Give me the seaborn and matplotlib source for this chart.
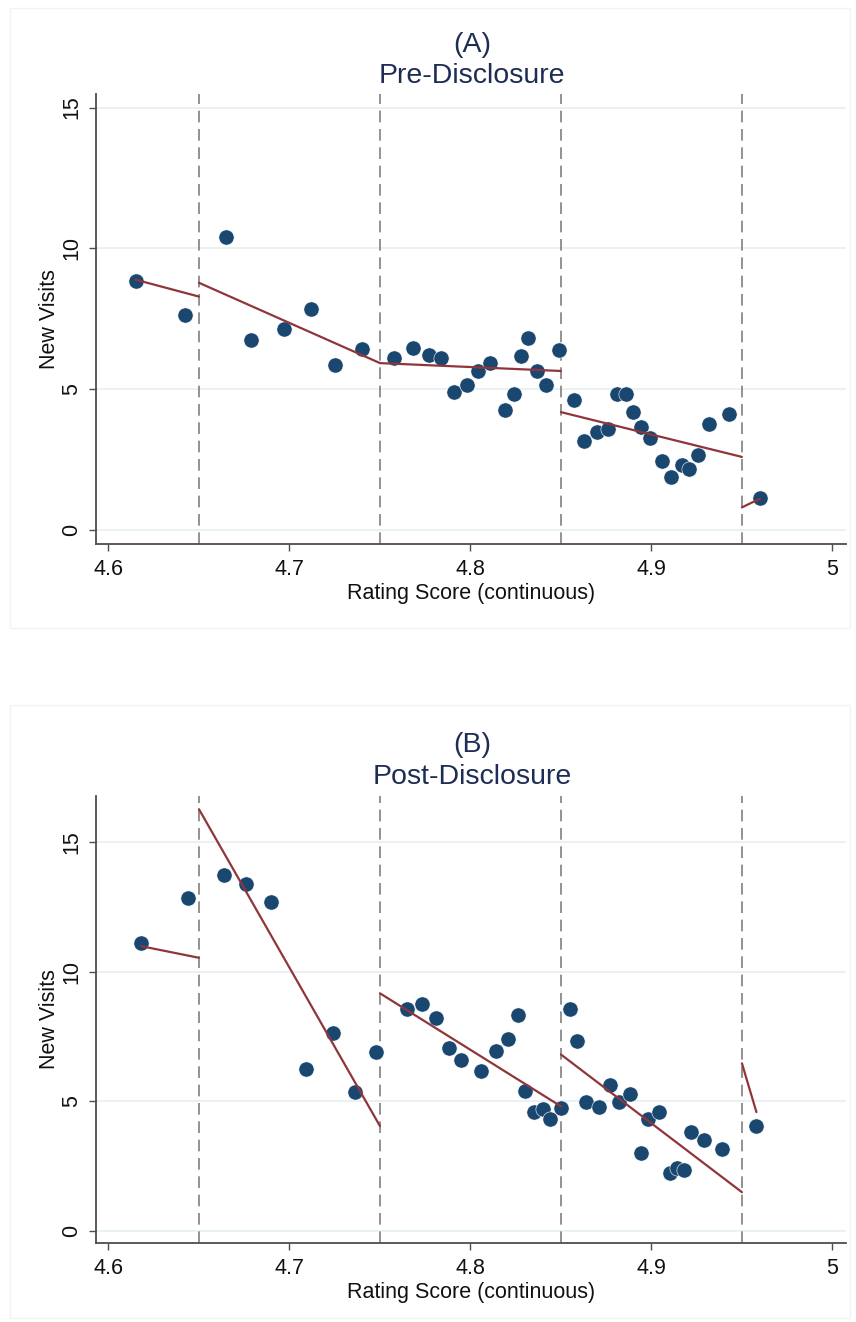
import numpy as np
import pandas as pd
import matplotlib
matplotlib.use("Agg")
import matplotlib.pyplot as plt
import seaborn as sns
from matplotlib.patches import Rectangle

# ---------------- data ----------------
cutoffs = [4.65, 4.75, 4.85, 4.95]
x_ticks = [4.6, 4.7, 4.8, 4.9, 5.0]
x_ticklabels = ["4.6", "4.7", "4.8", "4.9", "5"]
y_ticks = [0, 5, 10, 15]
y_ticklabels = ["0", "5", "10", "15"]

# Panel A: Pre-Disclosure binned scatter
pre_x = [4.615, 4.642, 4.665, 4.679, 4.697, 4.712, 4.725, 4.740, 4.758, 4.768,
         4.777, 4.784, 4.791, 4.798, 4.804, 4.811, 4.819, 4.824, 4.828, 4.832,
         4.837, 4.842, 4.849, 4.857, 4.863, 4.870, 4.876, 4.881, 4.886, 4.890,
         4.894, 4.899, 4.906, 4.911, 4.917, 4.921, 4.926, 4.932, 4.943, 4.960]
pre_y = [8.85, 7.65, 10.42, 6.74, 7.13, 7.85, 5.87, 6.42, 6.11, 6.46,
         6.21, 6.11, 4.89, 5.15, 5.66, 5.94, 4.28, 4.83, 6.17, 6.81,
         5.66, 5.17, 6.40, 4.61, 3.15, 3.47, 3.58, 4.85, 4.83, 4.20,
         3.67, 3.26, 2.46, 1.90, 2.33, 2.16, 2.67, 3.78, 4.13, 1.15]
# Panel A fitted segments (start x, end x, start y, end y)
pre_fit_x0 = [4.615, 4.65, 4.75, 4.85, 4.95]
pre_fit_x1 = [4.65, 4.75, 4.85, 4.95, 4.960]
pre_fit_y0 = [8.89, 8.78, 5.93, 4.19, 0.81]
pre_fit_y1 = [8.29, 5.93, 5.65, 2.60, 1.12]

# Panel B: Post-Disclosure binned scatter
post_x = [4.618, 4.644, 4.664, 4.676, 4.690, 4.709, 4.724, 4.736, 4.748, 4.765,
          4.773, 4.781, 4.788, 4.795, 4.806, 4.814, 4.821, 4.826, 4.830, 4.835,
          4.840, 4.844, 4.850, 4.855, 4.859, 4.864, 4.871, 4.877, 4.882, 4.888,
          4.894, 4.898, 4.904, 4.910, 4.914, 4.918, 4.922, 4.929, 4.939, 4.958]
post_y = [11.09, 12.84, 13.73, 13.39, 12.67, 6.24, 7.62, 5.34, 6.89, 8.54,
          8.73, 8.20, 7.07, 6.57, 6.16, 6.94, 7.39, 8.34, 5.39, 4.60,
          4.69, 4.30, 4.75, 8.54, 7.34, 4.98, 4.77, 5.61, 4.98, 5.28,
          3.00, 4.32, 4.60, 2.24, 2.44, 2.36, 3.80, 3.52, 3.14, 4.04]
post_fit_x0 = [4.618, 4.65, 4.75, 4.85, 4.95]
post_fit_x1 = [4.65, 4.75, 4.85, 4.95, 4.958]
post_fit_y0 = [10.98, 16.26, 9.16, 6.80, 6.46]
post_fit_y1 = [10.53, 4.04, 4.80, 1.49, 4.58]

panels = [
    dict(tag="(A)", title="Pre-Disclosure", x=pre_x, y=pre_y,
         fx0=pre_fit_x0, fx1=pre_fit_x1, fy0=pre_fit_y0, fy1=pre_fit_y1,
         ylim=(-0.49, 15.48)),
    dict(tag="(B)", title="Post-Disclosure", x=post_x, y=post_y,
         fx0=post_fit_x0, fx1=post_fit_x1, fy0=post_fit_y0, fy1=post_fit_y1,
         ylim=(-0.47, 16.77)),
]

# ---------------- style ----------------
sns.set_theme(style="white")
plt.rcParams["font.family"] = ["Liberation Sans", "DejaVu Sans"]

W, H = 856, 1322
fig = plt.figure(figsize=(W / 100, H / 100), dpi=100)
fig.patch.set_facecolor("white")

navy = "#1a476f"
maroon = "#90353b"
title_color = "#1e2d54"
axis_color = "#4d4d4d"

# axes boxes in pixels: left, top, right, bottom
boxes = [(96, 94, 846, 544), (96, 796, 846, 1243)]
regions = [(10, 8, 850, 628), (10, 705, 850, 1318)]
title_y = [(45, 76), (745, 777)]

for p, (l, t, r, b), (rl, rt, rr, rb), (ty1, ty2) in zip(panels, boxes, regions, title_y):
    # faint graph-region border
    fig.patches.append(Rectangle((rl / W, 1 - rb / H), (rr - rl) / W, (rb - rt) / H,
                                 transform=fig.transFigure, fill=False,
                                 edgecolor="#f3f3f3", linewidth=1.0, zorder=0))
    ax = fig.add_axes([l / W, 1 - b / H, (r - l) / W, (b - t) / H])
    ax.set_facecolor("white")

    # grid lines
    for yv in y_ticks:
        ax.axhline(yv, color="#e8f0f2", linewidth=1.3, zorder=0)

    # cutoff dashed lines
    for c in cutoffs:
        ax.axvline(c, color="#808080", linewidth=1.2, linestyle=(0, (7, 4)), zorder=1)

    # fitted segments
    seg_rows = []
    for i, (a0, a1, b0, b1) in enumerate(zip(p["fx0"], p["fx1"], p["fy0"], p["fy1"])):
        seg_rows.append(dict(seg=i, x=a0, y=b0))
        seg_rows.append(dict(seg=i, x=a1, y=b1))
    seg_df = pd.DataFrame(seg_rows)

    pts = pd.DataFrame(dict(x=p["x"], y=p["y"]))
    sns.scatterplot(data=pts, x="x", y="y", ax=ax, color=navy, s=120,
                    edgecolor="white", linewidth=0.4, zorder=3)
    sns.lineplot(data=seg_df, x="x", y="y", units="seg", estimator=None, ax=ax,
                 color=maroon, linewidth=1.6, zorder=4, sort=False)

    ax.set_xlim(4.5931, 5.0075)
    ax.set_ylim(*p["ylim"])
    ax.set_xticks(x_ticks)
    ax.set_xticklabels(x_ticklabels)
    ax.set_yticks(y_ticks)
    ax.set_yticklabels(y_ticklabels, rotation=90, va="center")
    ax.tick_params(axis="both", direction="out", length=5, width=1.0,
                   color=axis_color, labelsize=15.5, labelcolor="#111111",
                   bottom=True, left=True)
    ax.tick_params(axis="x", pad=6)
    ax.tick_params(axis="y", pad=5)
    for s in ["top", "right"]:
        ax.spines[s].set_visible(False)
    for s in ["left", "bottom"]:
        ax.spines[s].set_color(axis_color)
        ax.spines[s].set_linewidth(1.3)

    ax.set_xlabel("Rating Score (continuous)", fontsize=15.5, color="#111111", labelpad=2)
    ax.set_ylabel("New Visits", fontsize=15.5, color="#111111", labelpad=1)

    cx = 472 / W
    fig.text(cx, 1 - ty1 / H, p["tag"], ha="center", va="center",
             fontsize=20.5, color=title_color)
    fig.text(cx, 1 - ty2 / H, p["title"], ha="center", va="center",
             fontsize=20.5, color=title_color)

fig.savefig("out.png", dpi=100, facecolor="white")
